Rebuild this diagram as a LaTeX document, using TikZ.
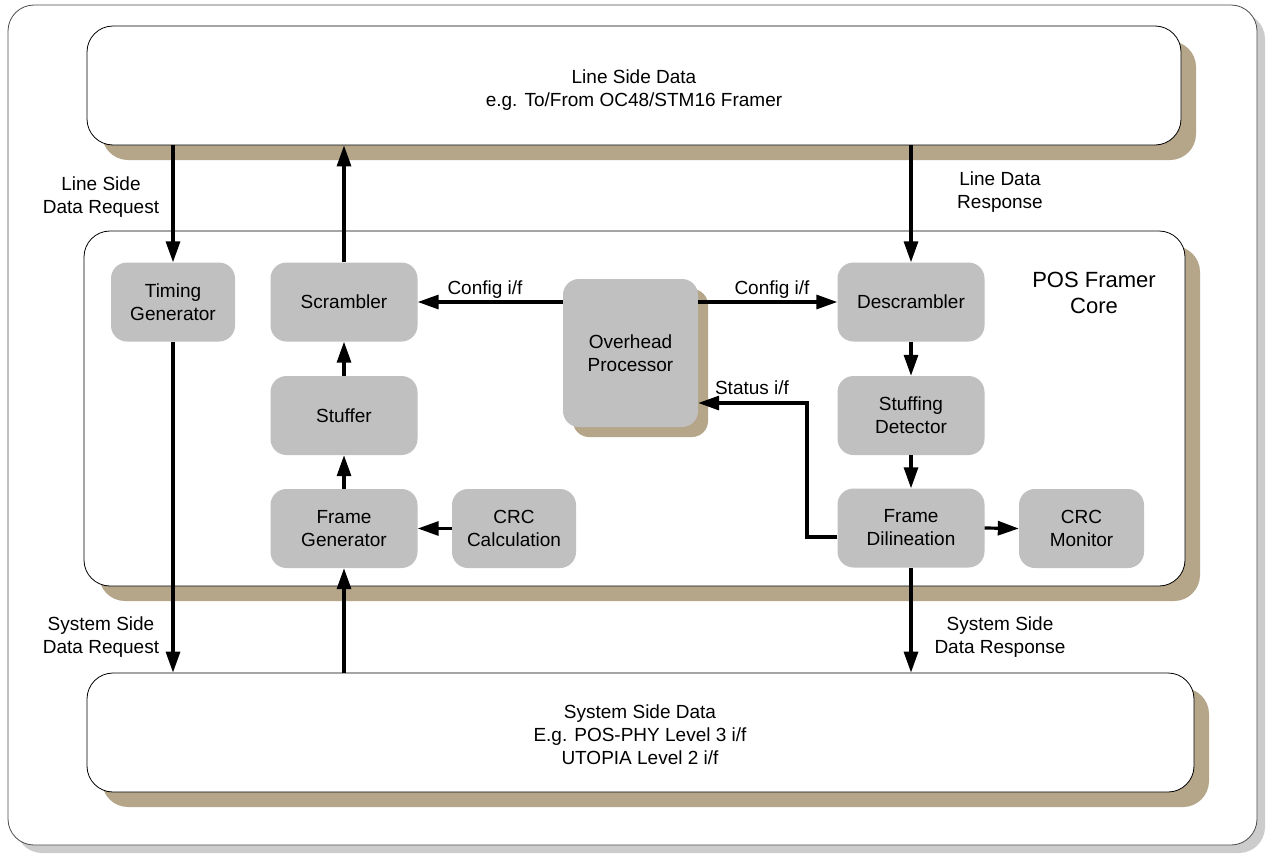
\documentclass[tikz,border=0pt]{standalone}
\usepackage{fontspec}
\setmainfont{Liberation Sans}
\usetikzlibrary{arrows.meta,shadows}
\definecolor{shadowtan}{RGB}{181,165,137}
\definecolor{boxgray}{RGB}{192,192,192}
\definecolor{framegray}{RGB}{204,204,204}

\begin{document}
\begin{tikzpicture}[x=1pt,y=-1pt,
  font=\fontsize{19}{23}\selectfont,
  block/.style={fill=boxgray, rounded corners=16pt, minimum width=147pt, minimum height=79pt, align=center, inner sep=0pt},
  panel/.style={draw, fill=white, rounded corners=26pt, line width=0.8pt, inner sep=0pt,
    drop shadow={shadow xshift=15pt, shadow yshift=-15pt, fill=shadowtan, opacity=1}},
  flow/.style={line width=3.2pt, -{Triangle[length=21pt,width=14pt]}},
  lbl/.style={align=center, inner sep=0pt}]

	\useasboundingbox (0,0) rectangle (1266,854);
	\draw [draw=black!70, fill=white, rounded corners=26pt, line width=0.8pt,
	  drop shadow={shadow xshift=8pt, shadow yshift=-8pt, fill=framegray, opacity=1}] (8,5) rectangle (1257,845);

	% outer blocks
	\node (line) [panel, minimum width=1094pt, minimum height=119pt] at (634,85.5) {};
	\node (core) [panel, minimum width=1101pt, minimum height=355pt] at (634.5,408.5) {};
	\node (sys) [panel, minimum width=1107pt, minimum height=119pt] at (640.5,732.5) {};
	\node (linetxt) [lbl] at (634,90) {Line Side Data\\e.g. To/From OC48/STM16 Framer};
	\node (systxt) [lbl] at (640,735) {System Side Data\\E.g. POS-PHY Level 3 i/f\\UTOPIA Level 2 i/f};
	\node (pos) [lbl, font=\fontsize{22}{26}\selectfont] at (1094,293) {POS Framer\\Core};

	% core blocks
	\node (tim) [block, minimum width=124pt] at (173,302) {Timing\\Generator};
	\node (scr) [block] at (344,302) {Scrambler};
	\node (stf) [block] at (344,415.5) {Stuffer};
	\node (fgen) [block] at (344,528.5) {Frame\\Generator};
	\node (crcc) [block, minimum width=124pt] at (514,528.5) {CRC\\Calculation};
	\node (ovh) [block, minimum width=135pt, minimum height=148pt,
	  drop shadow={shadow xshift=10pt, shadow yshift=-10pt, fill=shadowtan, opacity=1}] at (630.5,353) {Overhead\\Processor};
	\node (dscr) [block] at (911,302) {Descrambler};
	\node (sdet) [block] at (911,415.5) {Stuffing\\Detector};
	\node (fdl) [block] at (911,528) {Frame\\Dilineation};
	\node (crcm) [block, minimum width=125pt] at (1081.5,528.5) {CRC\\Monitor};

	\coordinate (st) at (807,403);

	% data paths
	\draw [flow] (tim.north |- line.south) -- (tim.north);
	\draw [flow] (tim.south) -- (tim.south |- sys.north);
	\draw [flow] (scr.north) -- (scr.north |- line.south);
	\draw [flow] (stf.north) -- (scr.south);
	\draw [flow] (fgen.north) -- (stf.south);
	\draw [flow] (fgen.south |- sys.north) -- (fgen.south);
	\draw [flow] (crcc.west) -- (fgen.east);
	\draw [flow] (ovh.west |- scr.east) -- (scr.east);
	\draw [flow] (ovh.east |- dscr.west) -- (dscr.west);
	\draw [flow] (dscr.north |- line.south) -- (dscr.north);
	\draw [flow] (dscr.south) -- (sdet.north);
	\draw [flow] (sdet.south) -- (fdl.north);
	\draw [flow] (fdl.east) -- (crcm.west);
	\draw [flow] ([yshift=-9pt]fdl.west) -| (st) -- (ovh.east |- st);
	\draw [flow] (fdl.south) -- (fdl.south |- sys.north);

	\node (lsreq) [lbl] at (101,197) {Line Side\\Data Request};
	\node (ldresp) [lbl] at (1000,192) {Line Data\\Response};
	\node (ssreq) [lbl] at (101,637) {System Side\\Data Request};
	\node (ssresp) [lbl] at (1000,637) {System Side\\Data Response};
	\node (cfgl) [lbl] at (485,290) {Config i/f};
	\node (cfgr) [lbl] at (772,290) {Config i/f};
	\node (stat) [lbl] at (752,388) {Status i/f};

\end{tikzpicture}
\end{document}
